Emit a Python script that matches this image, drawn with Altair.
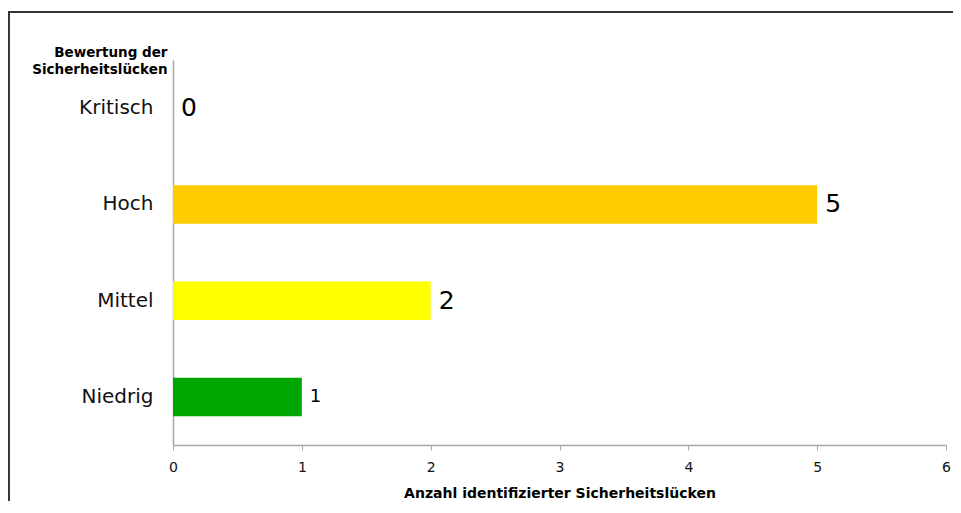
import altair as alt
import pandas as pd

categories = ["Kritisch", "Hoch", "Mittel", "Niedrig"]
counts = [0, 5, 2, 1]
colors = ["#FF0000", "#FFCC00", "#FFFF00", "#00A600"]
x_ticks = [0, 1, 2, 3, 4, 5, 6]
y_title = ["Bewertung der", "Sicherheitslücken"]
x_title = "Anzahl identifizierter Sicherheitslücken"

df = pd.DataFrame({"Bewertung": categories, "Anzahl": counts, "Farbe": colors})

FONT = "DejaVu Sans"
W, H = 773, 385

y_enc = alt.Y(
    "Bewertung:N",
    sort=categories,
    scale=alt.Scale(paddingInner=0.6, paddingOuter=0.3),
    axis=alt.Axis(
        title=y_title,
        titleAngle=0,
        titleAlign="right",
        titleBaseline="middle",
        titleX=-6,
        titleY=-8,
        titleFont=FONT,
        titleFontSize=13.5,
        titleFontWeight="bold",
        titleLineHeight=17,
        titleColor="#000000",
        labelFont=FONT,
        labelFontSize=20,
        labelColor="#111111",
        labelPadding=20,
        ticks=False,
        domainColor="#A6A6A6",
        domainWidth=1.5,
        grid=False,
    ),
)

x_enc = alt.X(
    "Anzahl:Q",
    scale=alt.Scale(domain=[0, 6], nice=False),
    axis=alt.Axis(
        title=x_title,
        values=x_ticks,
        format="d",
        titleFont=FONT,
        titleFontSize=14,
        titleFontWeight="bold",
        titleColor="#000000",
        titlePadding=12,
        labelFont=FONT,
        labelFontSize=14,
        labelColor="#111111",
        labelPadding=10,
        labelFlush=False,
        tickColor="#A6A6A6",
        tickSize=5,
        domainColor="#A6A6A6",
        domainWidth=1.5,
        grid=False,
    ),
)

bars = alt.Chart(df).mark_bar().encode(
    x=x_enc,
    y=y_enc,
    color=alt.Color("Farbe:N", scale=None, legend=None),
)

labels = alt.Chart(df).mark_text(
    align="left", baseline="middle", dx=8, font=FONT, color="#000000"
).encode(
    x="Anzahl:Q",
    y=alt.Y("Bewertung:N", sort=categories),
    text="Anzahl:Q",
    size=alt.condition("datum.Anzahl == 1", alt.value(18), alt.value(25)),
)

frame = alt.Chart(df).mark_rect(
    fill=None, stroke="#333333", strokeWidth=2
).encode(
    x=alt.value(-164.5), x2=alt.value(W + 40),
    y=alt.value(-48), y2=alt.value(H + 80),
)

chart = alt.layer(frame, bars, labels).properties(
    width=W,
    height=H,
    background="white",
    autosize=alt.AutoSizeParams(type="none"),
    padding={"left": 165, "top": 52, "right": 7, "bottom": 56},
).configure_view(stroke=None)

chart.save("out.html", embed_options={"renderer": "svg", "actions": False})
